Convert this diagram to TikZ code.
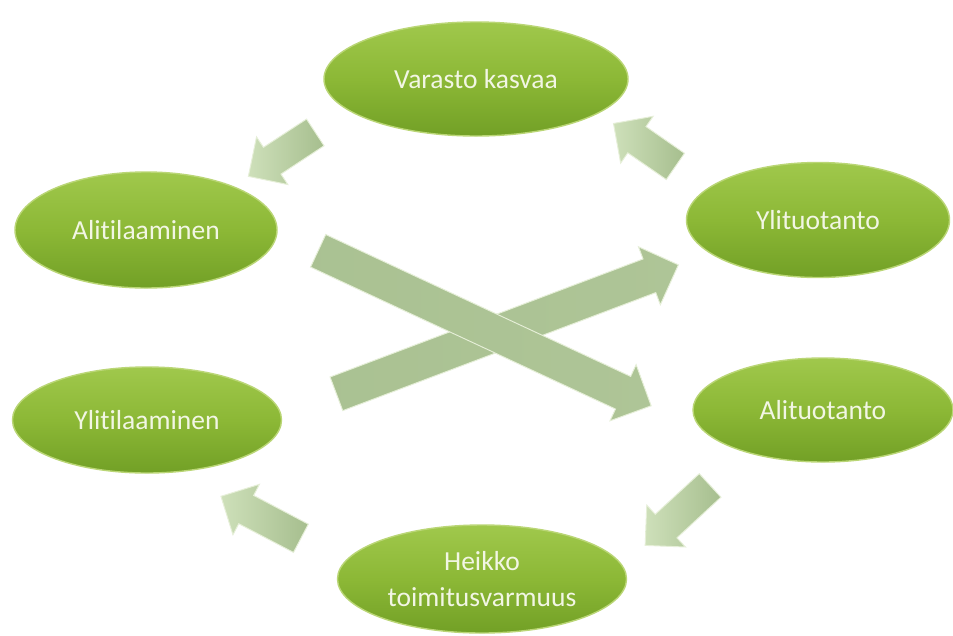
\documentclass[tikz,border=0pt]{standalone}
\usepackage{fontspec}
\setmainfont{Carlito}[Ligatures={NoCommon}]
\usetikzlibrary{shapes.geometric, shapes.arrows, calc}
\definecolor{ellTop}{RGB}{160,200,76}
\definecolor{ellMid}{RGB}{140,184,54}
\definecolor{ellBot}{RGB}{114,160,38}
\definecolor{ellRim}{RGB}{186,214,118}
\definecolor{ellText}{RGB}{242,246,228}
\definecolor{arrDark}{RGB}{166,190,142}
\definecolor{arrLight}{RGB}{206,224,186}
\definecolor{arrRim}{RGB}{230,239,216}
\tikzset{
phase/.style={ellipse, inner sep=0pt, top color=ellTop, bottom color=ellBot, middle color=ellMid, draw=ellRim, line width=1.2pt, text=ellText, align=center, font=\fontsize{23.5}{31}\selectfont}, % the green ovals
blockarr/.style={single arrow, inner xsep=0pt, inner ysep=0.465cm, text height=0pt, text depth=0pt, single arrow head extend=0.375cm, draw=arrRim, line width=0.8pt, left color=arrLight, right color=arrDark}, % small arrows round the ring
bigarr/.style={blockarr, inner ysep=0.525cm, single arrow head extend=0.39cm, left color=arrDark!90!arrLight, right color=arrDark!80!arrLight}, % the two crossing arrows
}
% block arrow from #2 to #3
\newcommand\blockarrow[3][blockarr]{%
  \path let \p1=($(#3)-(#2)$), \n1={veclen(\x1,\y1)}, \n2={atan2(\y1,\x1)} in
    ($(#2)!0.5!(#3)$) node[#1, minimum height=\n1, rotate=\n2] {};}

\begin{document}
\begin{tikzpicture}[x=0.03cm, y=-0.03cm]
  \fill[white] (0,0) rectangle (953,635);
  \useasboundingbox (0,0) rectangle (953,635);

  % arrow ends
  \coordinate (a1s) at (322,128); \coordinate (a1e) at (255,172);
  \coordinate (a2s) at (682,171); \coordinate (a2e) at (620,128);
  \coordinate (a3s) at (716,480); \coordinate (a3e) at (651,540);
  \coordinate (a4s) at (308,542); \coordinate (a4e) at (228,500);
  \coordinate (b1s) at (310,247); \coordinate (b1e) at (643,402);
  \coordinate (b2s) at (328,397); \coordinate (b2e) at (670,268);

  \blockarrow{a1s}{a1e}
  \blockarrow{a2s}{a2e}
  \blockarrow{a3s}{a3e}
  \blockarrow{a4s}{a4e}
  \blockarrow[bigarr]{b2s}{b2e}
  \blockarrow[bigarr]{b1s}{b1e}

  \node[phase, minimum width=9.12cm, minimum height=3.42cm] (vk) at (476,79) {Varasto kasvaa};
  \node[phase, minimum width=7.86cm, minimum height=3.48cm] (ali) at (146,230) {Alitilaaminen};
  \node[phase, minimum width=7.89cm, minimum height=3.45cm] (ylt) at (818,220) {Ylituotanto};
  \node[phase, minimum width=8.07cm, minimum height=3.18cm] (ylti) at (147,420) {Ylitilaaminen};
  \node[phase, minimum width=7.8cm, minimum height=3.12cm] (alt) at (823,410) {Alituotanto};
  \node[phase, minimum width=8.67cm, minimum height=3.24cm] (hei) at (482,579) {Heikko\\toimitusvarmuus};
\end{tikzpicture}
\end{document}
